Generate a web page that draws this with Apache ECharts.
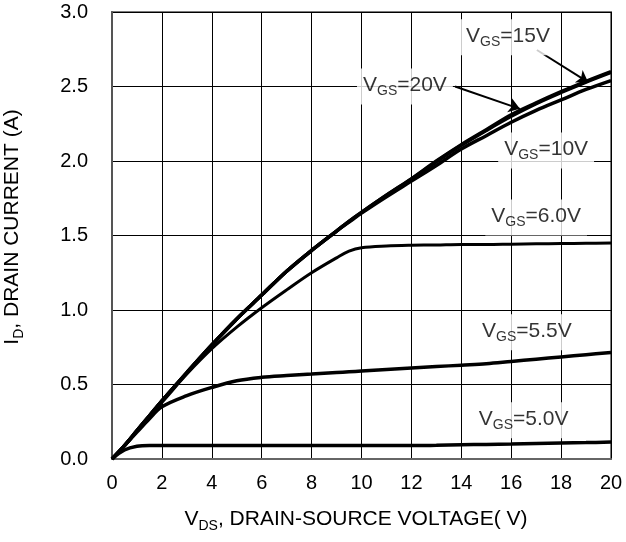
<!DOCTYPE html>
<html>
<head>
<meta charset="utf-8">
<style>
  html, body { margin: 0; padding: 0; background: #fff; }
  #chart { width: 626px; height: 542px; }
</style>
<script src="https://cdn.jsdelivr.net/npm/echarts@6/dist/echarts.min.js"></script>
</head>
<body>
<div id="chart"></div>
<script>
  // V_DS sample points (V)
  var vds = [0, 0.5, 1, 1.5, 2, 3, 4, 5, 6, 7, 8, 9, 9.5, 10, 11, 12, 13, 14, 15, 16, 17, 18, 19, 20];

  // I_D (A), one array per gate voltage
  var id20 = [0, 0.09, 0.19, 0.29, 0.39, 0.58, 0.765, 0.94, 1.10, 1.26, 1.40, 1.53, 1.595, 1.655, 1.77, 1.88, 2.00, 2.11, 2.21, 2.31, 2.39, 2.465, 2.535, 2.60];
  var id15 = [0, 0.09, 0.19, 0.29, 0.39, 0.58, 0.765, 0.94, 1.10, 1.26, 1.40, 1.53, 1.595, 1.655, 1.77, 1.88, 1.995, 2.105, 2.205, 2.30, 2.385, 2.46, 2.53, 2.595];
  var id10 = [0, 0.09, 0.19, 0.29, 0.39, 0.58, 0.765, 0.94, 1.10, 1.26, 1.40, 1.53, 1.59, 1.65, 1.76, 1.865, 1.97, 2.08, 2.17, 2.26, 2.34, 2.41, 2.48, 2.54];
  var id60 = [0, 0.09, 0.19, 0.29, 0.38, 0.57, 0.74, 0.885, 1.015, 1.135, 1.25, 1.35, 1.395, 1.418, 1.43, 1.435, 1.437, 1.44, 1.44, 1.442, 1.444, 1.446, 1.448, 1.45];
  var id55 = [0, 0.09, 0.18, 0.27, 0.35, 0.425, 0.48, 0.525, 0.548, 0.56, 0.57, 0.58, 0.585, 0.59, 0.60, 0.61, 0.62, 0.63, 0.64, 0.655, 0.67, 0.685, 0.70, 0.715];
  var id50 = [0, 0.06, 0.085, 0.09, 0.09, 0.09, 0.09, 0.09, 0.09, 0.09, 0.09, 0.09, 0.09, 0.09, 0.09, 0.09, 0.092, 0.095, 0.098, 0.10, 0.104, 0.107, 0.11, 0.114];

  var xTicks = [0, 2, 4, 6, 8, 10, 12, 14, 16, 18, 20];
  var yTicks = ['0.0', '0.5', '1.0', '1.5', '2.0', '2.5', '3.0'];

  // curve labels: text suffix and anchor [V_DS, I_D]
  var labelText = ['15V', '20V', '10V', '6.0V', '5.5V', '5.0V'];
  var labelAt = [[15.87, 2.83], [11.74, 2.50], [17.4, 2.07], [17.0, 1.62], [16.63, 0.85], [16.5, 0.26]];

  // arrows from label to curve
  var arrows = [
    [[17.03, 2.745], [19.08, 2.53]],
    [[13.75, 2.50], [16.35, 2.35]]
  ];

  function pairs(ys) {
    return vds.map(function (x, i) { return [x, ys[i]]; });
  }

  function curve(ys, w) {
    return {
      type: 'line',
      data: pairs(ys),
      smooth: 0.35,
      showSymbol: false,
      lineStyle: { color: '#000', width: w },
      z: 3
    };
  }

  var labelData = labelAt.map(function (p, i) {
    return { value: p, name: labelText[i] };
  });

  var rich = {
    v: { fontSize: 21, lineHeight: 24, verticalAlign: 'top', color: '#000', fontFamily: 'Liberation Sans' },
    s: { fontSize: 14, lineHeight: 10, verticalAlign: 'bottom', color: '#000', fontFamily: 'Liberation Sans' }
  };

  var chart = echarts.init(document.getElementById('chart'));
  chart.setOption({
    animation: false,
    backgroundColor: '#fff',
    grid: {
      left: 112, right: 15, top: 12, bottom: 83,
      outerBoundsMode: 'none',
      show: true, borderColor: '#7a7a7a', borderWidth: 2
    },
    xAxis: {
      type: 'value',
      min: 0, max: 20, interval: 2,
      name: '{v|V}{s|DS}{v|, DRAIN-SOURCE VOLTAGE( V)}',
      nameLocation: 'middle',
      nameGap: 50,
      nameTextStyle: { padding: [0, 11, 0, 0], rich: rich },
      axisLine: { lineStyle: { color: '#666', width: 2 } },
      axisTick: { show: false },
      axisLabel: {
        margin: 14, fontSize: 20, color: '#000', fontFamily: 'Liberation Sans',
        formatter: function (v) { return xTicks.indexOf(v) >= 0 ? String(v) : ''; }
      },
      splitLine: { show: true, lineStyle: { color: '#000', width: 1 } }
    },
    yAxis: {
      type: 'value',
      min: 0, max: 3, interval: 0.5,
      name: '{v|I}{s|D}{v|, DRAIN CURRENT (A)}',
      nameLocation: 'middle',
      nameGap: 86,
      nameTextStyle: { padding: [0, 0, 0, 17], rich: rich },
      axisLine: { show: true, lineStyle: { color: '#555', width: 2 } },
      axisTick: { show: false },
      axisLabel: {
        margin: 24, fontSize: 20, color: '#000', fontFamily: 'Liberation Sans',
        formatter: function (v) { return yTicks[Math.round(v * 2)]; }
      },
      splitLine: { show: true, lineStyle: { color: '#000', width: 1 } }
    },
    series: [
      curve(id50, 3.5),
      curve(id55, 3.5),
      curve(id60, 3),
      curve(id10, 3.5),
      curve(id15, 3.5),
      curve(id20, 3.5),
      {
        type: 'lines',
        coordinateSystem: 'cartesian2d',
        polyline: false,
        symbol: ['none', 'arrow'],
        symbolSize: 11,
        lineStyle: { color: '#000', width: 2, opacity: 1, curveness: 0 },
        data: arrows.map(function (a) { return { coords: a }; }),
        z: 4
      },
      {
        type: 'scatter',
        data: labelData,
        symbolSize: 0,
        silent: true,
        label: {
          show: true,
          position: 'inside',
          backgroundColor: '#fff',
          padding: [6, 6, 6, 6],
          formatter: function (p) { return '{v|V}{s|GS}{v|=' + p.name + '}'; },
          rich: rich
        },
        z: 5
      }
    ]
  });
</script>
</body>
</html>
